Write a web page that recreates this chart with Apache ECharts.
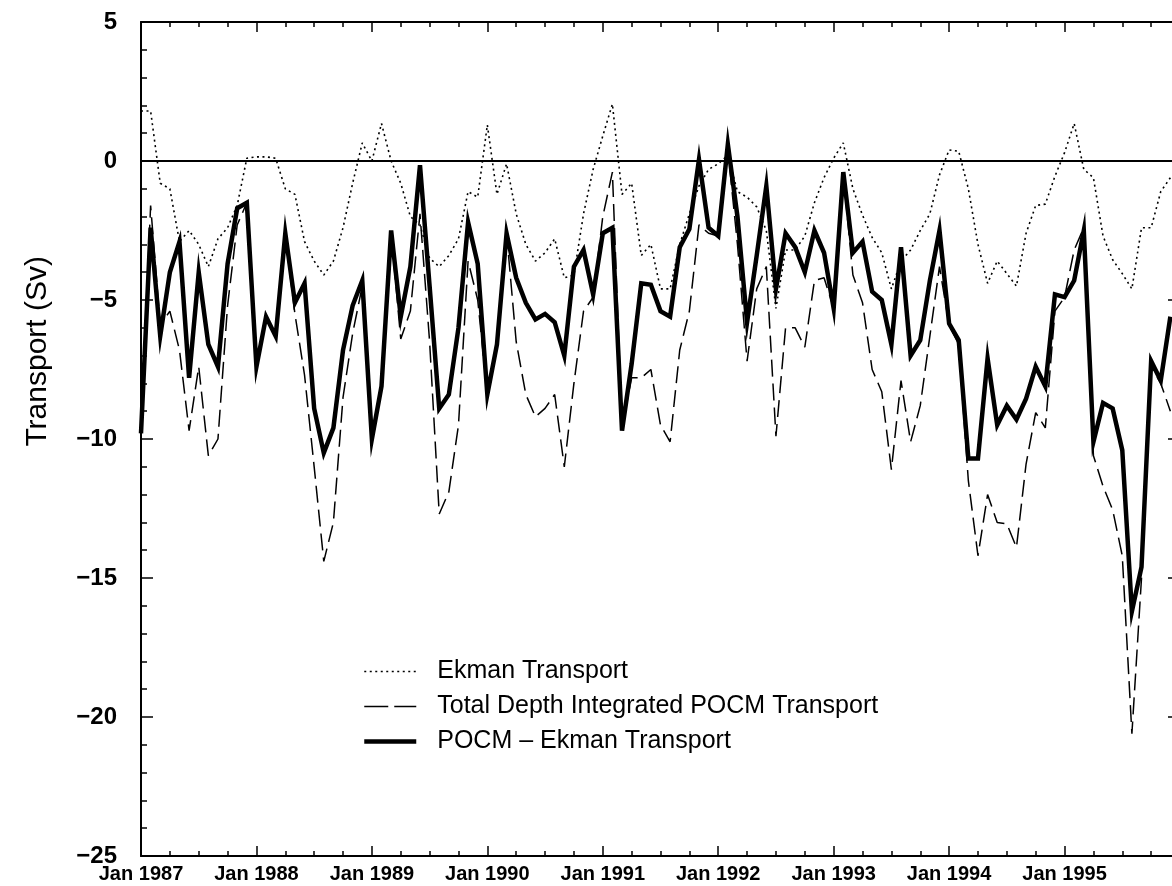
<!DOCTYPE html>
<html>
<head>
<meta charset="utf-8">
<script src="https://cdn.jsdelivr.net/npm/echarts@6/dist/echarts.min.js"></script>
<style>
  html, body { margin: 0; padding: 0; background: #ffffff; overflow: hidden; }
  #chart { width: 1172px; height: 886px; }
</style>
</head>
<body>
<div id="chart"></div>
<script>
// Monthly transport (Sv), one value per month starting Jan 1987
const yearLabels = [1987, 1988, 1989, 1990, 1991, 1992, 1993, 1994, 1995];

const ekmanTransport = [
  1.8, 1.8, -0.8, -1.0, -2.9, -2.5, -3.0, -3.8, -2.8, -2.4, -1.6, 0.1,
  0.15, 0.15, 0.1, -1.0, -1.2, -2.9, -3.6, -4.1, -3.6, -2.4, -0.8, 0.65,
  0.0, 1.35, 0.0, -0.8, -2.0, -2.3, -3.5, -3.8, -3.4, -2.8, -1.1, -1.3,
  1.3, -1.2, -0.1, -1.9, -3.0, -3.6, -3.3, -2.8, -4.2, -4.1, -1.9, -0.3,
  0.9, 2.05, -1.2, -0.8, -3.4, -3.0, -4.6, -4.6, -3.0, -1.9, -0.9, -0.3,
  -0.1, 0.2, -1.1, -1.3, -1.65, -2.5, -5.3, -3.2, -3.2, -2.7, -1.5, -0.6,
  0.1, 0.65, -1.0, -1.95, -2.75, -3.3, -4.6, -3.6, -3.2, -2.5, -1.9, -0.5,
  0.4, 0.35, -1.0, -3.0, -4.4, -3.6, -4.05, -4.5, -2.6, -1.6, -1.55, -0.55,
  0.3, 1.35, -0.3, -0.6, -2.7, -3.55, -4.05, -4.6, -2.4, -2.4, -1.1, -0.6
];

const totalTransport = [
  -9.8, -1.6, -5.9, -5.4, -6.8, -9.7, -7.4, -10.6, -10.0, -5.2, -2.3, -1.5,
  -7.4, -5.6, -6.3, -2.7, -5.5, -7.7, -11.0, -14.4, -13.0, -8.5, -6.2, -4.5,
  -10.0, -8.1, -2.6, -6.4, -5.4, -1.9, -6.5, -12.7, -11.9, -9.5, -3.6, -5.0,
  -8.4, -6.7, -2.6, -6.5, -8.4, -9.2, -8.9, -8.4, -11.0, -8.0, -5.4, -4.9,
  -2.0, -0.4, -9.6, -7.8, -7.8, -7.5, -9.5, -10.1, -6.8, -5.4, -2.3, -2.6,
  -2.7, 0.4, -3.0, -7.2, -4.6, -3.8, -9.9, -6.0, -6.0, -6.7, -4.3, -4.2,
  -5.3, -0.5, -4.1, -5.1, -7.5, -8.3, -11.1, -7.9, -10.1, -8.8, -6.3, -3.8,
  -5.9, -6.6, -11.5, -14.2, -12.0, -13.0, -13.05, -13.9, -10.9, -9.05, -9.6, -5.4,
  -4.9, -3.2, -2.4, -10.6, -11.7, -12.55, -14.2, -20.6, -15.0, -7.4, -8.0, -9.0
];

const pocmMinusEkman = [
  -9.8, -2.4, -6.3, -4.0, -2.9, -7.8, -4.0, -6.6, -7.4, -3.7, -1.7, -1.5,
  -7.4, -5.6, -6.3, -2.6, -5.1, -4.4, -8.9, -10.5, -9.6, -6.8, -5.2, -4.3,
  -10.0, -8.1, -2.5, -5.6, -3.8, -0.15, -4.5, -8.9, -8.4, -6.0, -2.2, -3.7,
  -8.4, -6.6, -2.6, -4.2, -5.1, -5.7, -5.5, -5.8, -7.0, -3.8, -3.2, -4.8,
  -2.6, -2.4, -9.7, -7.3, -4.4, -4.45, -5.4, -5.6, -3.1, -2.45, 0.05, -2.4,
  -2.7, 0.6, -2.0, -5.8, -3.4, -0.9, -4.6, -2.6, -3.1, -4.0, -2.5, -3.3,
  -5.3, -0.4, -3.3, -2.9, -4.7, -5.0, -6.6, -3.1, -7.0, -6.45, -4.3, -2.5,
  -5.85, -6.45, -10.7, -10.7, -7.1, -9.5, -8.8, -9.3, -8.55, -7.4, -8.1, -4.8,
  -4.9, -4.3, -2.5, -10.1, -8.7, -8.9, -10.4, -16.2, -14.6, -7.2, -7.9, -5.6
];

const seriesNames = [
  'Ekman Transport',
  'Total Depth Integrated POCM Transport',
  'POCM \u2013 Ekman Transport'
];

const toPairs = (values) => values.map((v, i) => [i, v]);
const FONT = 'Liberation Sans, Arial, Helvetica, sans-serif';
const INK = '#000000';

const chart = echarts.init(document.getElementById('chart'), null, { renderer: 'canvas' });

const lineAxis = { show: true, onZero: false, lineStyle: { color: INK, width: 2 } };
const majorTick = (len) => ({ show: true, inside: true, length: len, lineStyle: { color: INK, width: 1.5 } });
const minorTicks = (n, len) => ({ show: true, splitNumber: n, length: len, lineStyle: { color: INK, width: 1.5 } });

// plot box runs one year past Jan 1995; its right edge sits just beyond the page
chart.setOption({
  animation: false,
  backgroundColor: '#ffffff',
  grid: {
    left: 141, top: 22, width: 1039, height: 834,
    containLabel: false, outerBoundsMode: 'none'
  },
  xAxis: [
    {
      type: 'value', min: 0, max: 108, interval: 12, position: 'bottom',
      axisLine: lineAxis, axisTick: majorTick(10), minorTick: minorTicks(4, 5),
      splitLine: { show: false },
      axisLabel: {
        color: INK, fontFamily: FONT, fontWeight: 'bold', fontSize: 20, margin: 8,
        showMaxLabel: false,
        formatter: (v) => {
          const k = Math.round(v / 12);
          return k < yearLabels.length ? 'Jan ' + yearLabels[k] : '';
        }
      }
    },
    {
      type: 'value', min: 0, max: 108, interval: 12, position: 'top',
      axisLine: lineAxis, axisTick: majorTick(10), minorTick: minorTicks(4, 5),
      splitLine: { show: false }, axisLabel: { show: false }
    }
  ],
  yAxis: [
    {
      type: 'value', min: -25, max: 5, interval: 5, position: 'left',
      axisLine: lineAxis, axisTick: majorTick(12), minorTick: minorTicks(5, 6),
      splitLine: { show: false },
      axisLabel: {
        color: INK, fontFamily: FONT, fontWeight: 'bold', fontSize: 24, margin: 24,
        formatter: (v) => String(v).replace('-', '\u2212')
      }
    },
    {
      type: 'value', min: -25, max: 5, interval: 5, position: 'right',
      axisLine: lineAxis, axisTick: majorTick(12), minorTick: minorTicks(5, 6),
      splitLine: { show: false }, axisLabel: { show: false }
    }
  ],
  legend: {
    orient: 'vertical', left: 357, top: 654,
    itemWidth: 52, itemHeight: 14, itemGap: 10,
    itemStyle: { opacity: 0 },
    data: [
      { name: seriesNames[0], lineStyle: { width: 1.6, type: [2, 3.5] } },
      { name: seriesNames[1], lineStyle: { width: 1.6, type: [24, 6] } },
      { name: seriesNames[2], lineStyle: { width: 4.5, type: 'solid' } }
    ],
    textStyle: { color: INK, fontFamily: FONT, fontSize: 25, padding: [0, 0, 0, 16] }
  },
  graphic: [{
    type: 'text', left: 23, top: 256, rotation: Math.PI / 2,
    style: { text: 'Transport (Sv)', fill: INK, font: 'normal 30px ' + FONT }
  }],
  series: [
    {
      name: seriesNames[0], type: 'line', data: toPairs(ekmanTransport),
      symbol: 'none', z: 2,
      lineStyle: { color: INK, width: 1.6, type: [2, 3.5] },
      itemStyle: { color: INK }
    },
    {
      name: seriesNames[1], type: 'line', data: toPairs(totalTransport),
      symbol: 'none', z: 3,
      lineStyle: { color: INK, width: 1.5, type: [17, 7] },
      itemStyle: { color: INK }
    },
    {
      name: seriesNames[2], type: 'line', data: toPairs(pocmMinusEkman),
      symbol: 'none', z: 4,
      lineStyle: { color: INK, width: 4.5, join: 'miter' },
      itemStyle: { color: INK },
      markLine: {
        silent: true, symbol: 'none', label: { show: false },
        lineStyle: { color: INK, width: 2, type: 'solid' },
        data: [{ yAxis: 0 }]
      }
    }
  ]
});
</script>
</body>
</html>
